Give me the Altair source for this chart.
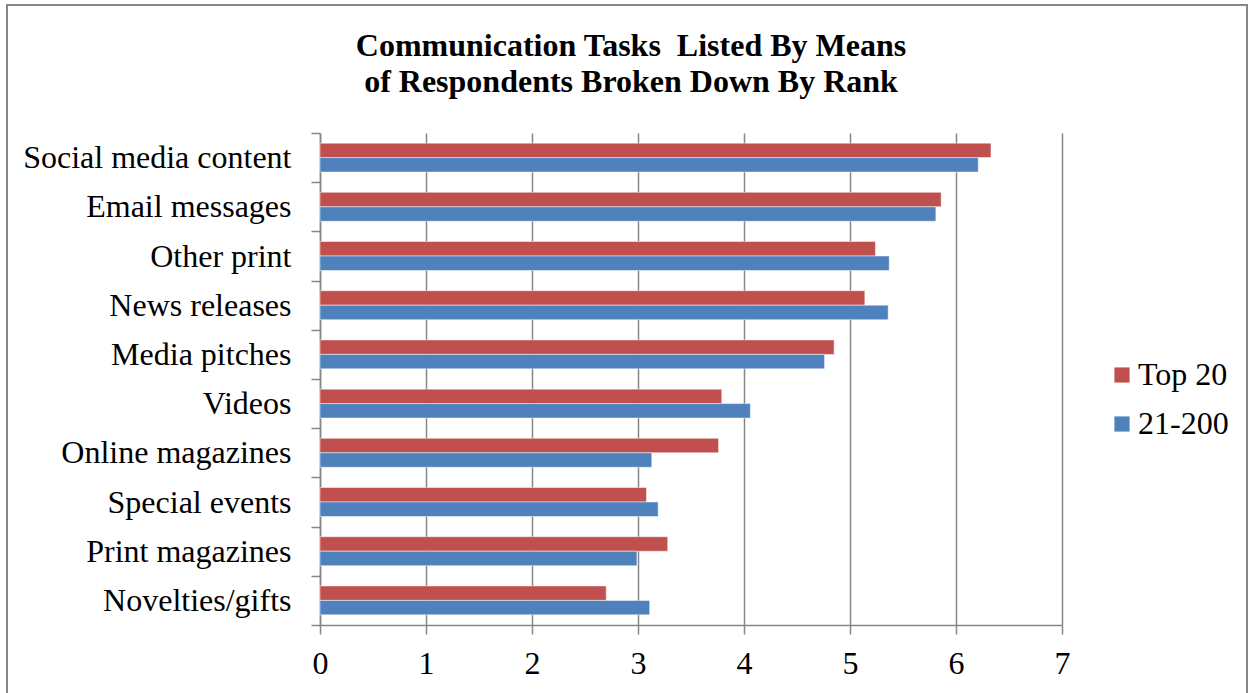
import altair as alt
import pandas as pd

# Mean scores per communication task, split by agency rank group
categories = [
    "Social media content",
    "Email messages",
    "Other print",
    "News releases",
    "Media pitches",
    "Videos",
    "Online magazines",
    "Special events",
    "Print magazines",
    "Novelties/gifts",
]
top_20 = [6.33, 5.86, 5.24, 5.14, 4.85, 3.79, 3.76, 3.08, 3.28, 2.70]
rank_21_200 = [6.21, 5.81, 5.37, 5.36, 4.76, 4.06, 3.13, 3.19, 2.99, 3.11]
series = ["Top 20", "21-200"]
series_colors = ["#C0504D", "#4F81BD"]
x_ticks = [0, 1, 2, 3, 4, 5, 6, 7]

rows = []
for cat, a, b in zip(categories, top_20, rank_21_200):
    rows.append({"task": cat, "group": series[0], "mean": a})
    rows.append({"task": cat, "group": series[1], "mean": b})
df = pd.DataFrame(rows)

FONT = "Liberation Serif"
GRAY = "#878787"

bars = (
    alt.Chart(df)
    .mark_bar(stroke="white", strokeWidth=0.8, strokeOpacity=0.6)
    .encode(
        x=alt.X(
            "mean:Q",
            scale=alt.Scale(domain=[0, 7], nice=False),
            axis=alt.Axis(
                values=x_ticks,
                title=None,
                grid=True,
                gridColor=GRAY,
                gridWidth=1.5,
                domainColor=GRAY,
                domainWidth=1.5,
                tickColor=GRAY,
                tickWidth=1.5,
                tickSize=9,
                labelFlush=False,
                labelFont=FONT,
                labelFontSize=32,
                labelColor="black",
                labelPadding=14,
            ),
        ),
        y=alt.Y(
            "task:N",
            sort=categories,
            scale=alt.Scale(paddingInner=0, paddingOuter=0),
            axis=alt.Axis(
                title=None,
                grid=False,
                tickBand="extent",
                domainColor=GRAY,
                domainWidth=1.5,
                tickColor=GRAY,
                tickWidth=1.5,
                tickSize=9,
                labelFont=FONT,
                labelFontSize=32,
                labelColor="black",
                labelPadding=20,
                labelLimit=400,
            ),
        ),
        yOffset=alt.YOffset(
            "group:N",
            sort=series,
            scale=alt.Scale(paddingInner=0, paddingOuter=0.7),
        ),
        color=alt.Color(
            "group:N",
            sort=series,
            scale=alt.Scale(domain=series, range=series_colors),
            legend=alt.Legend(
                title=None,
                orient="none",
                legendX=786,
                legendY=226,
                symbolType="square",
                symbolSize=230,
                symbolStrokeWidth=0,
                labelFont=FONT,
                labelFontSize=32,
                labelColor="black",
                labelOffset=0,
                rowPadding=17,
            ),
        ),
    )
)

# Outer frame around the whole figure
frame = (
    alt.Chart(alt.Data(values=[{}]))
    .mark_rect(fill="transparent", stroke=GRAY, strokeWidth=2)
    .encode(
        x=alt.value(-313),
        x2=alt.value(927),
        y=alt.value(-128),
        y2=alt.value(600),
    )
)

# Two-line heading drawn as text marks above the plot area
title_lines = [
    "Communication Tasks\u00a0 Listed By Means",
    "of Respondents Broken Down By Rank",
]
heading = (
    alt.Chart(alt.Data(values=[{}]))
    .mark_text(
        font=FONT,
        fontSize=32,
        fontWeight="bold",
        color="black",
        align="center",
        baseline="alphabetic",
        lineHeight=36,
    )
    .encode(
        x=alt.value(311),
        y=alt.value(-77),
        text=alt.value(title_lines),
    )
)

chart = (
    alt.layer(frame, heading, bars)
    .properties(
        width=742,
        height=492,
        autosize="none",
        padding={"left": 320, "top": 133, "right": 191, "bottom": 68},
        background="white",
    )
    .configure_view(stroke=None)
)

chart.save("out.html", embed_options={"renderer": "svg", "actions": False})
